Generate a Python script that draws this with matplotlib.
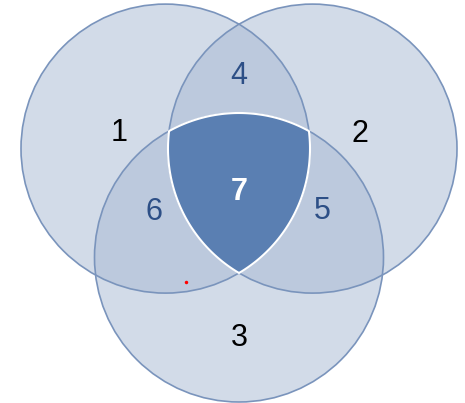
import numpy as np
import matplotlib
matplotlib.use("Agg")
import matplotlib.pyplot as plt
from matplotlib.patches import Circle, Polygon

plt.rcParams['font.family'] = ['Liberation Sans', 'DejaVu Sans']

# set names and region labels
set_labels = ['1', '2', '3']
pair_labels = ['4', '5', '6']
core_label = '7'

# circle geometry in pixel space (x, y from top-left)
centers = [(165.5, 148.6), (312.5, 148.6), (239.0, 257.5)]
radius = 144.5

set_pos = [(119, 133), (360, 134), (239, 338)]
pair_pos = [(239, 76), (322, 211), (154, 212)]
core_pos = (239, 192)

fill = '#a7b9d3'
edge = '#7a94bc'
core_fill = '#5a7fb2'
pair_text = '#2d4f86'


def core_region(centers, r, n=2000):
    # points on each circle that lie inside the other two -> boundary of triple overlap
    pts = []
    t = np.linspace(0, 2 * np.pi, n, endpoint=False)
    for i, (cx, cy) in enumerate(centers):
        xs = cx + r * np.cos(t)
        ys = cy + r * np.sin(t)
        ok = np.ones_like(xs, dtype=bool)
        for j, (ox, oy) in enumerate(centers):
            if j != i:
                ok &= (xs - ox) ** 2 + (ys - oy) ** 2 <= r ** 2 + 1e-6
        pts.append(np.column_stack([xs[ok], ys[ok]]))
    pts = np.vstack(pts)
    c = pts.mean(axis=0)
    ang = np.arctan2(pts[:, 1] - c[1], pts[:, 0] - c[0])
    return pts[np.argsort(ang)]


fig = plt.figure(figsize=(4.65, 4.03), dpi=100)
ax = fig.add_axes([0, 0, 1, 1])
ax.set_xlim(0, 465)
ax.set_ylim(403, 0)
ax.set_aspect('equal')
ax.axis('off')

for cx, cy in centers:
    ax.add_patch(Circle((cx, cy), radius, facecolor=fill, alpha=0.5, edgecolor='none'))
for cx, cy in centers:
    ax.add_patch(Circle((cx, cy), radius, facecolor='none', edgecolor=edge, lw=1.2))

ax.add_patch(Polygon(core_region(centers, radius), closed=True,
                     facecolor=core_fill, edgecolor='white', lw=1.5))

fs = 22
for lab, (x, y) in zip(set_labels, set_pos):
    ax.text(x, y, lab, fontsize=fs, color='black', ha='center', va='center')
for lab, (x, y) in zip(pair_labels, pair_pos):
    ax.text(x, y, lab, fontsize=fs, color=pair_text, ha='center', va='center')
ax.text(core_pos[0], core_pos[1], core_label, fontsize=fs, color='white',
        fontweight='bold', ha='center', va='center')

# stray red dot
ax.plot([186], [282], 'o', color='red', ms=2.5, mec='none')

fig.savefig('out.png', dpi=100)
